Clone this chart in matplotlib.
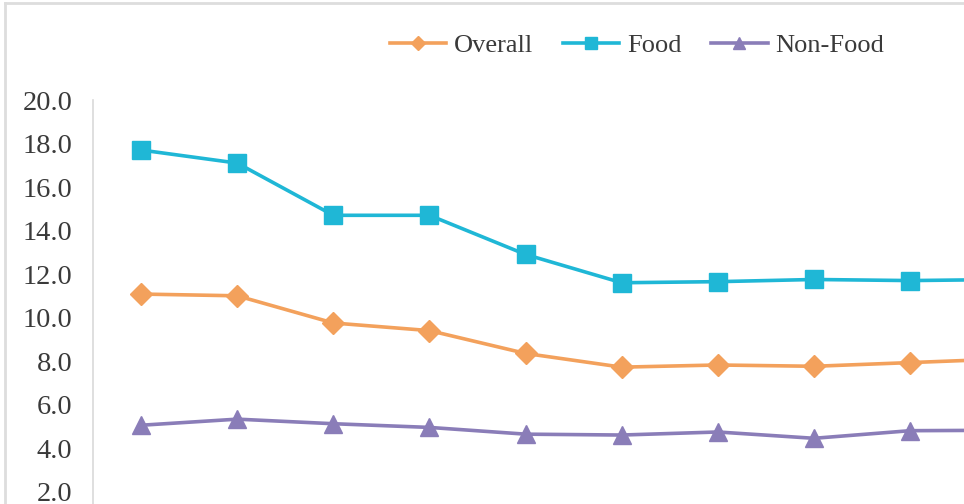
import numpy as np
import matplotlib.pyplot as plt
from matplotlib.lines import Line2D

# values (last point lies past the cropped right edge)
periods = list(range(10))
overall = [11.08, 11.0, 9.75, 9.4, 8.35, 7.72, 7.82, 7.76, 7.93, 8.1]
food = [17.7, 17.1, 14.7, 14.7, 12.9, 11.6, 11.65, 11.75, 11.7, 11.75]
non_food = [5.05, 5.33, 5.12, 4.95, 4.64, 4.6, 4.74, 4.45, 4.8, 4.82]
yticks = [2.0, 4.0, 6.0, 8.0, 10.0, 12.0, 14.0, 16.0, 18.0, 20.0]

c_overall = '#F3A15C'
c_food = '#1FB7D6'
c_non = '#8A7DB8'

plt.rcParams['font.family'] = ['Liberation Serif', 'DejaVu Serif']

fig = plt.figure(figsize=(9.64, 5.04), dpi=100)
ax = fig.add_axes([93 / 964, 0.0, 1 - 93 / 964, 404 / 504])

ax.plot(periods, overall, color=c_overall, linewidth=2.6, marker='D',
        markersize=11, label='Overall')
ax.plot(periods, food, color=c_food, linewidth=2.6, marker='s',
        markersize=12.5, label='Food')
ax.plot(periods, non_food, color=c_non, linewidth=2.6, marker='^',
        markersize=13, label='Non-Food')

ax.set_xlim(-0.5, 8.56)
ax.set_ylim(1.43, 20.0)
ax.set_yticks(yticks)
ax.set_yticklabels([f'{v:.1f}' for v in yticks])
ax.set_xticks([])
ax.tick_params(axis='y', length=0, pad=15, labelsize=20.5, labelcolor='#3a3a3a')

for side in ['top', 'right', 'bottom']:
    ax.spines[side].set_visible(False)
ax.spines['left'].set_color('#D9D9D9')
ax.spines['left'].set_linewidth(1.2)

leg = fig.legend(loc='center', bbox_to_anchor=(637 / 964, 1 - 45 / 504), ncol=3,
                 frameon=False, fontsize=19, handlelength=2.15, handletextpad=0.3,
                 columnspacing=1.1, markerscale=0.65)
for t in leg.get_texts():
    t.set_color('#3a3a3a')

# outer chart frame (top and left edges visible)
fig.add_artist(Line2D([5 / 964, 5 / 964], [0, 1 - 3 / 504], color='#DDDDDD',
                      linewidth=2.0, transform=fig.transFigure))
fig.add_artist(Line2D([5 / 964, 1], [1 - 3 / 504, 1 - 3 / 504], color='#DDDDDD',
                      linewidth=2.0, transform=fig.transFigure))

fig.savefig('out.png', dpi=100)
